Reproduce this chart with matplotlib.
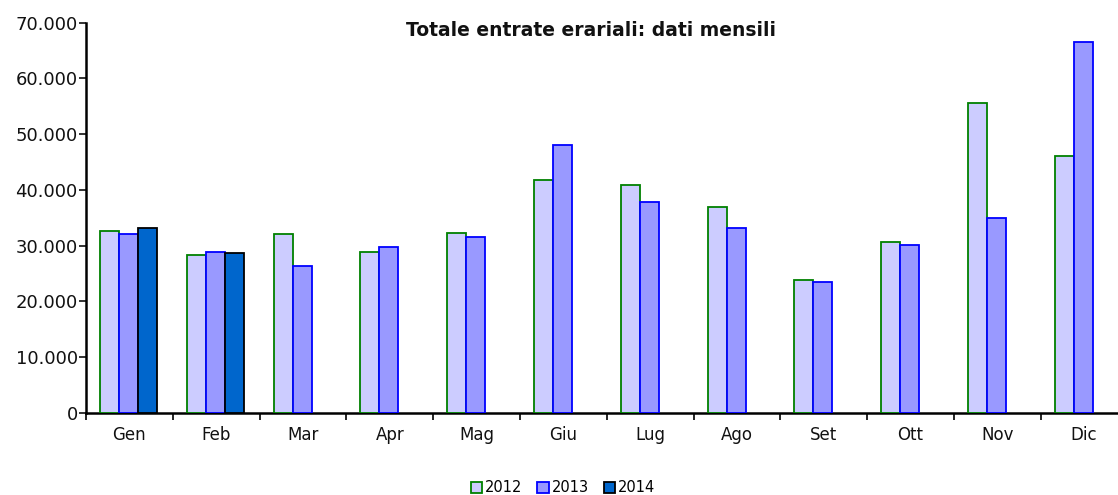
import matplotlib
matplotlib.use("Agg")
import matplotlib.pyplot as plt
from matplotlib.ticker import FuncFormatter, FixedLocator
import numpy as np

months = ["Gen", "Feb", "Mar", "Apr", "Mag", "Giu", "Lug", "Ago", "Set", "Ott", "Nov", "Dic"]
v2012 = [32600, 28400, 32000, 28900, 32300, 41800, 40900, 36900, 23800, 30600, 55500, 46100]
v2013 = [32100, 28900, 26300, 29700, 31500, 48000, 37800, 33200, 23500, 30100, 34900, 66500]
v2014 = [33200, 28700]
series_names = ["2012", "2013", "2014"]
title = "Totale entrate erariali: dati mensili"

fills = ["#CCCCFF", "#9999FF", "#0066CC"]
edges = ["#008000", "#0000FF", "#000000"]

plt.rcParams['font.family'] = ['DejaVu Sans']

W, H = 1118, 495
fig = plt.figure(figsize=(W / 100, H / 100), dpi=100)
left, right = 86, 1127.5
bottom, top = 413, 22.5
ax = fig.add_axes([left / W, 1 - bottom / H, (right - left) / W, (bottom - top) / H])

x = np.arange(len(months))
bw = 0.219
offsets = [-bw - 0.01, -0.01, bw - 0.01]
data = [v2012, v2013, v2014]
for i, vals in enumerate(data):
    xi = x[:len(vals)] + offsets[i]
    ax.bar(xi, vals, width=bw, color=fills[i], edgecolor=edges[i], linewidth=1.3,
           label=series_names[i], zorder=3)

ax.set_xlim(-0.5, len(months) - 0.5)
ax.set_ylim(0, 70000)
ax.set_yticks(np.arange(0, 70001, 10000))
ax.yaxis.set_major_formatter(FuncFormatter(lambda v, p: f"{int(v):,}".replace(",", ".")))

ax.set_xticks(x)
ax.set_xticklabels(months)
ax.xaxis.set_minor_locator(FixedLocator(np.arange(-0.5, len(months), 1.0)))
ax.tick_params(axis='x', which='major', length=0, pad=9, labelsize=12, colors='#111111')
ax.tick_params(axis='x', which='minor', length=5, width=1.2, direction='out')
ax.tick_params(axis='y', length=5, width=1.2, direction='out', labelsize=13, pad=1,
               colors='#111111')

for s in ["top", "right"]:
    ax.spines[s].set_visible(False)
ax.spines["left"].set_linewidth(1.8)
ax.spines["bottom"].set_linewidth(1.8)

fig.text(591 / W, 1 - 31 / H, title, ha='center', va='center', fontsize=13.5,
         fontweight='bold', color='#111111')

leg = fig.legend(loc='center', bbox_to_anchor=(563 / W, 1 - 488 / H), ncol=3, frameon=False,
                 fontsize=10.5, handlelength=0.8, handleheight=0.8, handletextpad=0.2,
                 columnspacing=1.0)

fig.savefig("out.png", dpi=100)
